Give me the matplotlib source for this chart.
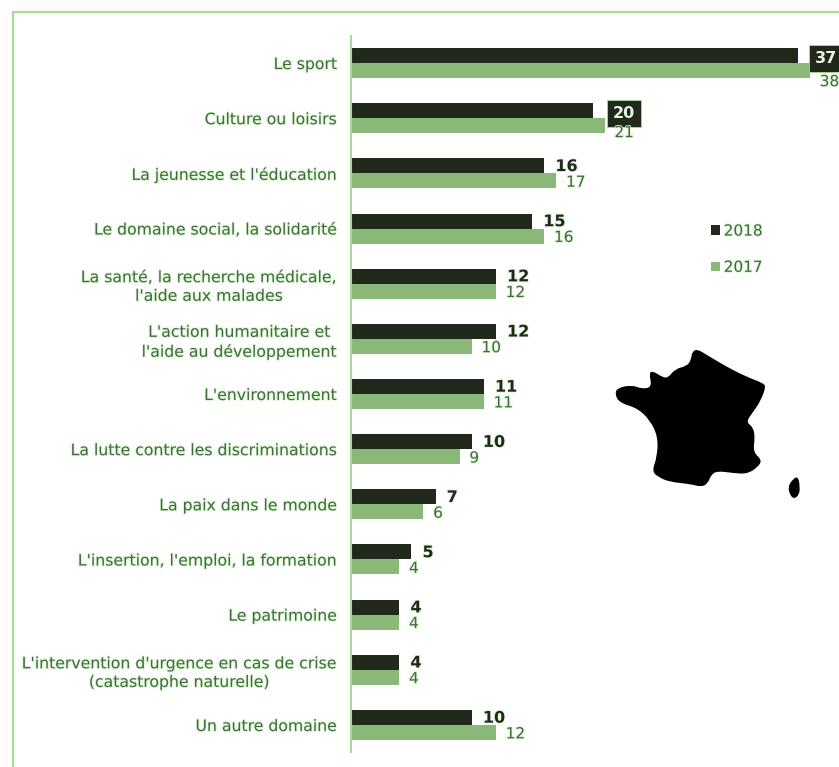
import matplotlib
matplotlib.use("Agg")
import matplotlib.pyplot as plt
import matplotlib.patheffects as pe
from matplotlib.path import Path
from matplotlib.patches import PathPatch
import numpy as np

# ===== data =====
categories = [
    "Le sport",
    "Culture ou loisirs",
    "La jeunesse et l'éducation",
    "Le domaine social, la solidarité",
    "La santé, la recherche médicale,\nl'aide aux malades",
    "L'action humanitaire et\nl'aide au développement",
    "L'environnement",
    "La lutte contre les discriminations",
    "La paix dans le monde",
    "L'insertion, l'emploi, la formation",
    "Le patrimoine",
    "L'intervention d'urgence en cas de crise\n(catastrophe naturelle)",
    "Un autre domaine",
]
values_2018 = [37, 20, 16, 15, 12, 12, 11, 10, 7, 5, 4, 4, 10]
values_2017 = [38, 21, 17, 16, 12, 10, 11, 9, 6, 4, 4, 4, 12]

# France outline (pixels)
france = [(697, 349), (707, 355), (727, 367), (747, 377), (763, 383), (766, 387),
          (760, 402), (753, 412), (746, 422), (753, 427), (755, 437), (753, 452),
          (762, 460), (758, 467), (747, 474), (733, 473), (717, 471), (711, 475),
          (708, 483), (702, 487), (690, 484), (670, 482), (658, 477), (652, 471),
          (657, 457), (658, 437), (650, 420), (637, 408), (620, 403), (615, 395),
          (617, 388), (632, 385), (642, 389), (652, 387), (649, 373), (653, 371),
          (662, 377), (668, 378), (675, 369), (687, 366), (691, 360), (692, 352)]
corsica = [(798, 476), (800, 487), (799, 495), (794, 499), (790, 495), (788, 487), (792, 480)]

DARK = "#20291c"
LIGHT = "#8ab878"
LINE = "#a8dc98"
TEXT = "#3d6f38"


def smooth_path(points):
    # midpoints on the curve, traced points as controls
    pts = np.array(points, dtype=float)
    mids = (pts + np.roll(pts, -1, axis=0)) / 2
    verts = [mids[-1]]
    codes = [Path.MOVETO]
    for p, m in zip(pts, mids):
        verts += [p, m]
        codes += [Path.CURVE3, Path.CURVE3]
    return Path(verts, codes)


plt.rcParams["font.family"] = "DejaVu Sans"
W, H = 839, 767
fig = plt.figure(figsize=(W / 100, H / 100), dpi=100)

halo = [pe.withStroke(linewidth=1.2, foreground="#d8f2d0")]

# ===== bars =====
ax = fig.add_axes([351 / W, 1 - 752 / H, (W - 351) / W, (752 - 36) / H])
y = np.arange(len(categories))
h = 0.272
ax.barh(y - h / 2, values_2018, h, color=DARK, label="2018")
ax.barh(y + h / 2, values_2017, h, color=LIGHT, label="2017")
ax.set_xlim(0, (W - 351) / 12.08)
ax.set_ylim(12.49, -0.49)
ax.set_yticks(y, categories, ha="right", multialignment="center", fontsize=11.3,
              color=TEXT, linespacing=1.3)
ax.tick_params(axis="y", length=0, pad=10)
ax.set_xticks([])
for s in ("top", "right", "bottom"):
    ax.spines[s].set_visible(False)
ax.spines["left"].set_color(LINE)
ax.spines["left"].set_linewidth(1.5)
for t in ax.get_yticklabels():
    t.set_path_effects(halo)

# ===== value labels =====
for i, (a, b) in enumerate(zip(values_2018, values_2017)):
    if i < 2:
        # the two longest bars have their 2018 value in a dark box
        ax.annotate(str(a), (a, i - h / 2), xytext=(12 if i == 0 else 14.5, -2),
                    textcoords="offset points",
                    va="center", ha="left", fontsize=11.5, fontweight="bold", color="#e8f6e2",
                    bbox=dict(boxstyle="square,pad=0.36", fc=DARK, ec=LINE, lw=0.6))
    else:
        ax.annotate(str(a), (a, i - h / 2), xytext=(8, -0.5), textcoords="offset points",
                    va="center", ha="left", fontsize=11.5, fontweight="bold", color=DARK,
                    path_effects=halo)
    dy = -8 if i == 0 else (-5 if i == 1 else -1)
    ax.annotate(str(b), (b, i + h / 2), xytext=(7, dy), textcoords="offset points",
                va="center", ha="left", fontsize=11, color=TEXT, path_effects=halo)

leg = ax.legend(loc="upper left", bbox_to_anchor=((706 - 351) / (W - 351), (752 - 219) / (752 - 36)),
                frameon=False, fontsize=11, handlelength=0.6, handleheight=0.6, handletextpad=0.26,
                labelspacing=1.39, borderpad=0.3, borderaxespad=0)
for t in leg.get_texts():
    t.set_color(TEXT)
    t.set_path_effects(halo)

# ===== frame and map, in picture pixels =====
over = fig.add_axes([0, 0, 1, 1], facecolor="none")
over.set_xlim(0, W)
over.set_ylim(H, 0)
over.axis("off")
over.plot([13, 13, W], [H, 12, 12], color=LINE, lw=1.6, solid_joinstyle="miter")
over.add_patch(PathPatch(smooth_path(france), fc="black", ec="none"))
over.add_patch(PathPatch(smooth_path(corsica), fc="black", ec="none"))

fig.savefig("out.png", dpi=100)
